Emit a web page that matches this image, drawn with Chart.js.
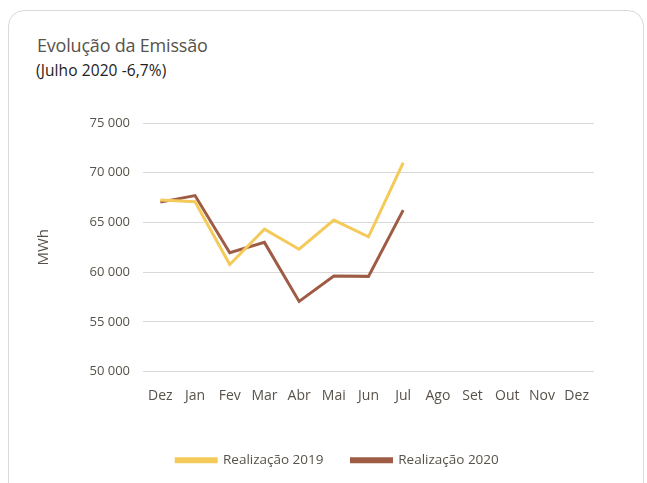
<!DOCTYPE html>
<html>
<head>
<meta charset="utf-8">
<script src="https://cdn.jsdelivr.net/npm/chart.js@4"></script>
<style>
  html, body { margin: 0; padding: 0; background: #fff; }
  #wrap { position: relative; width: 647px; height: 483px; overflow: hidden; }
  #card {
    position: absolute; left: 8px; top: 10px; width: 636px; height: 490px;
    border: 1px solid #d9d9d9; border-radius: 16px; box-sizing: border-box;
  }
  #title {
    position: absolute; left: 37px; top: 33px; font-family: "Open Sans", sans-serif;
    font-size: 18px; color: #57524a; font-weight: 400; letter-spacing: -0.2px;
  }
  #subtitle {
    position: absolute; left: 36px; top: 59px; font-family: "Open Sans", sans-serif;
    font-size: 15.5px; color: #222; font-weight: 400; letter-spacing: 0.1px;
  }
  canvas { position: absolute; left: 0; top: 0; }
</style>
</head>
<body>
<div id="wrap">
  <div id="card"></div>
  <div id="title">Evolução da Emissão</div>
  <div id="subtitle">(Julho 2020 -6,7%)</div>
  <canvas id="chart" width="647" height="483"></canvas>
</div>
<script>
// ==================== DATA ====================
const months = ['Dez', 'Jan', 'Fev', 'Mar', 'Abr', 'Mai', 'Jun', 'Jul', 'Ago', 'Set', 'Out', 'Nov', 'Dez'];
const real2019 = [67250, 67080, 60770, 64320, 62300, 65230, 63550, 71000, null, null, null, null, null];
const real2020 = [67040, 67700, 61950, 62990, 57050, 59600, 59570, 66230, null, null, null, null, null];
const yMin = 50000;
const yMax = 75000;
const yStep = 5000;

// ==================== HELPERS ====================
function formatTick(v) {
    // thousands with a space, like "65 000"
    return String(v).replace(/\B(?=(\d{3})+(?!\d))/g, ' ');
}

const font = 'Open Sans';
const textColor = '#57524a';

// legend sits centred under the card, not under the padded box
const legendShift = {
    id: 'legendShift',
    afterUpdate(chart) {
        const lg = chart.legend;
        if (!lg) return;
        lg.left += 23;
        lg.right += 23;
    }
};

// ==================== CHART ====================
new Chart(document.getElementById('chart'), {
    type: 'line',
    data: {
        labels: months,
        datasets: [{
            label: 'Realização 2019',
            data: real2019,
            borderColor: '#F4CB5B',
            backgroundColor: '#F4CB5B',
            borderWidth: 3,
            pointRadius: 0,
            tension: 0
        }, {
            label: 'Realização 2020',
            data: real2020,
            borderColor: '#9F5C45',
            backgroundColor: '#9F5C45',
            borderWidth: 3,
            pointRadius: 0,
            tension: 0
        }]
    },
    plugins: [legendShift],
    options: {
        responsive: false,
        animation: false,
        layout: { padding: { left: 35, right: 53, top: 123, bottom: 6 } },
        plugins: {
            legend: {
                position: 'bottom',
                labels: {
                    boxWidth: 40,
                    boxHeight: 3,
                    padding: 28,
                    color: textColor,
                    font: { family: font, size: 13.5 }
                }
            },
            tooltip: { enabled: false }
        },
        scales: {
            x: {
                offset: true,
                grid: { display: false },
                border: { display: false },
                ticks: {
                    color: textColor,
                    padding: 8,
                    maxRotation: 0,
                    autoSkip: false,
                    font: { family: font, size: 14 }
                },
                afterFit: s => { s.height = 54; }
            },
            y: {
                min: yMin,
                max: yMax,
                grid: { color: '#d9d9d9', lineWidth: 1, drawTicks: false },
                border: { display: false },
                ticks: {
                    stepSize: yStep,
                    padding: 13,
                    color: textColor,
                    font: { family: font, size: 13 },
                    callback: v => formatTick(v)
                },
                title: {
                    display: true,
                    text: 'MWh',
                    color: textColor,
                    padding: 0,
                    font: { family: font, size: 15 }
                },
                afterFit: s => { s.width = 108; }
            }
        }
    }
});
</script>
</body>
</html>
